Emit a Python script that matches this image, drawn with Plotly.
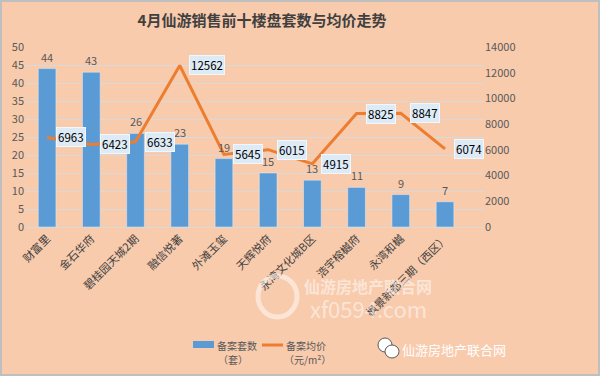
import plotly.graph_objects as go

categories = ["财富里", "金石华府", "碧桂园天城2期", "融信悦著", "外滩玉玺", "天辉悦府",
              "永湾文化城B区", "浩宇榕樾府", "永湾和樾", "枫景新都三期（西区）"]
units = [44, 43, 26, 23, 19, 15, 13, 11, 9, 7]
prices = [6963, 6423, 6633, 12562, 5645, 6015, 4915, 8825, 8847, 6074]
left_ticks = list(range(0, 51, 5))
right_ticks = list(range(0, 14001, 2000))
series_names = ["备案套数", "备案均价"]
series_units = ["（套）", "（元/m²）"]

W, H = 600, 376
ML, MR, MT, MB = 25, 116, 47, 149
PW = W - ML - MR
PH = H - MT - MB

def px_x(x):
    return (x - ML) / PW

def px_y(y):
    return (H - MB - y) / PH

FONT = "Noto Sans CJK SC"
BG = "#F8CBAD"
GRAY = "#595959"
BLUE = "#5B9BD5"
ORANGE = "#ED7D31"

fig = go.Figure()
fig.add_trace(go.Bar(
    x=categories, y=units, name=series_names[0],
    marker_color=BLUE, width=0.4, hoverinfo="skip",
))
fig.add_trace(go.Scatter(
    x=categories, y=prices, name=series_names[1], yaxis="y2",
    mode="lines", line=dict(color=ORANGE, width=3), hoverinfo="skip",
))

for c, u in zip(categories, units):
    fig.add_annotation(
        x=c, y=u, text=str(u), showarrow=False,
        xanchor="center", yanchor="middle", yshift=12,
        font=dict(color=GRAY, size=11, family=FONT),
    )

for c, p in zip(categories, prices):
    fig.add_annotation(
        x=c, y=p, yref="y2", text=str(p), showarrow=False,
        xanchor="left", yanchor="middle", xshift=9,
        font=dict(color="black", size=11.5, family=FONT),
        bgcolor="#DDEBF7", bordercolor="#F2F7FC", borderwidth=1, borderpad=1,
    )

def paper_text(x, y, text, color, size, family=FONT):
    fig.add_annotation(x=px_x(x), y=px_y(y), xref="paper", yref="paper",
                       text=text, showarrow=False, xanchor="center", yanchor="middle",
                       font=dict(color=color, size=size, family=family))

# watermarks
WM = "rgba(255,255,255,0.5)"
paper_text(368, 286, "<b>仙游房地产联合网</b>", WM, 16)
paper_text(368, 308, "xf0594.com", WM, 22)
fig.add_shape(type="circle", xref="paper", yref="paper",
              x0=px_x(258), x1=px_x(297), y0=px_y(317), y1=px_y(276),
              line=dict(color=WM, width=5))
paper_text(454, 349, "仙游房地产联合网", "white", 13)
fig.add_shape(type="circle", xref="paper", yref="paper",
              x0=px_x(378), x1=px_x(392), y0=px_y(352), y1=px_y(338),
              fillcolor="white", line=dict(color=GRAY, width=1))
fig.add_shape(type="circle", xref="paper", yref="paper",
              x0=px_x(385), x1=px_x(399), y0=px_y(358), y1=px_y(345),
              fillcolor="white", line=dict(color=GRAY, width=1))

# manual legend
fig.add_shape(type="rect", xref="paper", yref="paper",
              x0=px_x(193), x1=px_x(214), y0=px_y(348), y1=px_y(341),
              fillcolor=BLUE, line=dict(width=0))
fig.add_shape(type="line", xref="paper", yref="paper",
              x0=px_x(262), x1=px_x(283), y0=px_y(345), y1=px_y(345),
              line=dict(color=ORANGE, width=3))
paper_text(237, 345, series_names[0], GRAY, 10)
paper_text(233, 359, series_units[0], GRAY, 10)
paper_text(306, 345, series_names[1], GRAY, 10)
paper_text(307, 359, series_units[1], GRAY, 10)

# outer frame
fig.add_shape(type="rect", xref="paper", yref="paper",
              x0=px_x(1), x1=px_x(W - 1), y0=px_y(H - 1), y1=px_y(1),
              line=dict(color="#BFBFBF", width=2), layer="below")

fig.update_layout(
    width=W, height=H,
    margin=dict(l=ML, r=MR, t=MT, b=MB),
    paper_bgcolor=BG, plot_bgcolor=BG,
    title=dict(text="<b>4月仙游销售前十楼盘套数与均价走势</b>",
               x=262 / W, xanchor="center", y=1 - 21 / H, yanchor="middle",
               font=dict(size=15, color="#404040", family=FONT)),
    font=dict(family=FONT, color=GRAY),
    showlegend=False,
    hovermode=False,
    bargap=0.6,
    xaxis=dict(tickangle=-45, tickfont=dict(size=11, color="#404040", family=FONT),
               showgrid=False, showline=True, linecolor="#D9D9D9", automargin=False,
               ticks=""),
    yaxis=dict(range=[0, 50], tickvals=left_ticks, showgrid=True, gridcolor="#D9D9D9",
               tickfont=dict(size=11, color=GRAY), zeroline=False, automargin=False),
    yaxis2=dict(range=[0, 14000], tickvals=right_ticks, ticktext=[str(t) for t in right_ticks],
                overlaying="y", side="right",
                showgrid=False, tickfont=dict(size=11, color=GRAY), zeroline=False,
                automargin=False),
)

fig.write_html("out.html", config={"displayModeBar": False},
               post_script="document.body.style.margin='0';")
